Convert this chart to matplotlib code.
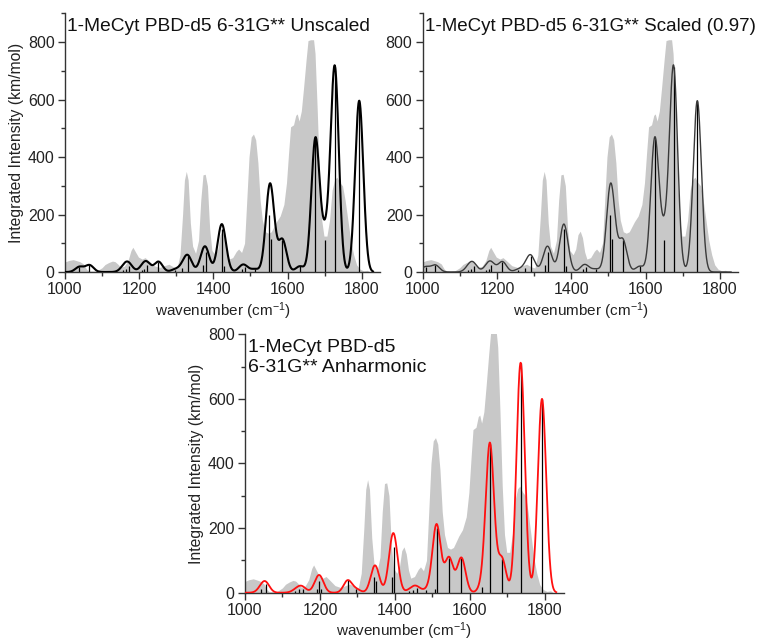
import numpy as np
import matplotlib
matplotlib.use("Agg")
import matplotlib.pyplot as plt
from matplotlib.ticker import MultipleLocator

plt.rcParams["font.family"] = ["Liberation Sans", "DejaVu Sans"]
plt.rcParams["mathtext.fontset"] = "custom"
plt.rcParams["mathtext.rm"] = "Liberation Sans"
plt.rcParams["mathtext.default"] = "regular"

# Experimental IR spectrum (grey envelope)
exp_wavenumber = [1000, 1010, 1022, 1030, 1040, 1050, 1058, 1065, 1085, 1100, 1108, 1118,
                  1128, 1135, 1142, 1150, 1160, 1170, 1178, 1183, 1190, 1198, 1208, 1216,
                  1225, 1240, 1255, 1268, 1280, 1292, 1302, 1310, 1317, 1322, 1327, 1332,
                  1338, 1344, 1352, 1360, 1366, 1372, 1378, 1384, 1390, 1396, 1405, 1412,
                  1418, 1424, 1430, 1436, 1442, 1452, 1462, 1468, 1476, 1484, 1490, 1496,
                  1502, 1508, 1514, 1520, 1526, 1532, 1540, 1548, 1556, 1562, 1570, 1580,
                  1590, 1597, 1603, 1608, 1616, 1622, 1626, 1631, 1637, 1643, 1650, 1655,
                  1662, 1670, 1674, 1680, 1686, 1692, 1698, 1706, 1713, 1720, 1727, 1733,
                  1740, 1748, 1755, 1762, 1770, 1778, 1786, 1795, 1805, 1815, 1822]
exp_intensity = [35, 40, 43, 40, 36, 28, 10, 3, 3, 15, 26, 33,
                 38, 36, 28, 17, 20, 40, 75, 86, 70, 52, 45, 50,
                 40, 22, 16, 22, 27, 18, 14, 60, 200, 320, 350, 320,
                 170, 90, 65, 110, 250, 338, 340, 300, 150, 75, 60, 80,
                 130, 142, 120, 70, 45, 50, 72, 80, 68, 100, 250, 400,
                 470, 480, 460, 380, 250, 180, 140, 135, 140, 155, 175, 195,
                 235, 310, 420, 505, 512, 545, 550, 525, 560, 640, 740, 805,
                 808, 808, 760, 560, 330, 180, 125, 125, 180, 285, 322, 330,
                 312, 300, 250, 185, 110, 60, 25, 10, 4, 6, 0]

# Calculated harmonic modes (unscaled)
unscaled_freq = [1039, 1066, 1157, 1164, 1172, 1207, 1214, 1221, 1252, 1296, 1316, 1331,
                 1371, 1379, 1422, 1429, 1476, 1484, 1512, 1551, 1556, 1586, 1633, 1675,
                 1701, 1727, 1793]
unscaled_int = [18, 24, 8, 12, 22, 6, 12, 24, 36, 8, 14, 54,
                24, 70, 150, 20, 12, 16, 10, 200, 115, 112, 20, 462,
                112, 712, 596]

# Same modes with frequencies scaled by 0.97
scaled_freq = [1007.8, 1034.0, 1122.3, 1129.1, 1136.8, 1170.8, 1177.6, 1184.4, 1214.4,
               1257.1, 1276.5, 1291.1, 1329.9, 1337.6, 1379.3, 1386.1, 1431.7, 1439.5,
               1466.6, 1504.5, 1509.3, 1538.4, 1584.0, 1624.8, 1650.0, 1675.2, 1739.2]
scaled_int = unscaled_int

# Anharmonic modes
anh_freq = [1044, 1055, 1133, 1145, 1154, 1191, 1198, 1203, 1274, 1297, 1345, 1349,
            1391, 1397, 1438, 1449, 1458, 1484, 1507, 1511, 1544, 1577, 1633, 1653,
            1685, 1735, 1792]
anh_int = [12, 28, 5, 10, 12, 12, 36, 10, 38, 10, 50, 36,
           50, 140, 5, 8, 14, 8, 12, 200, 108, 108, 18, 460,
           105, 712, 600]

FWHM = 26.0
GREY = "#c8c8c8"


def broaden(freqs, ints, x):
    sigma = FWHM / (2 * np.sqrt(2 * np.log(2)))
    y = np.zeros_like(x)
    for f, a in zip(freqs, ints):
        y += a * np.exp(-(x - f) ** 2 / (2 * sigma ** 2))
    return y


def style_axes(ax, ymax, ylabel):
    ax.set_xlim(1000, 1850)
    ax.set_ylim(0, ymax)
    for s in ("top", "right"):
        ax.spines[s].set_visible(False)
    for s in ("left", "bottom"):
        ax.spines[s].set_color("#333333")
        ax.spines[s].set_linewidth(1.0)
    ax.xaxis.set_major_locator(MultipleLocator(200))
    ax.xaxis.set_minor_locator(MultipleLocator(100))
    ax.yaxis.set_minor_locator(MultipleLocator(100))
    ax.set_yticks([0, 200, 400, 600, 800])
    ax.tick_params(which="major", direction="out", length=5, width=1, pad=2.5,
                   color="#333333", labelsize=11.5, labelcolor="#222222")
    ax.tick_params(which="minor", direction="out", length=3, width=1, color="#333333")
    ax.set_xlabel("wavenumber (cm$^{-1}$)", fontsize=11, color="#222222", labelpad=2)
    if ylabel:
        ax.set_ylabel("Integrated Intensity (km/mol)", fontsize=11.3, color="#222222",
                      labelpad=3)


fig = plt.figure(figsize=(7.67, 6.42), dpi=100)
ax1 = fig.add_axes([0.0847, 0.5763, 0.4112, 0.4030])
ax2 = fig.add_axes([0.5511, 0.5763, 0.4117, 0.4030])
ax3 = fig.add_axes([0.3194, 0.0768, 0.4156, 0.4025])

x = np.linspace(1000, 1830, 2000)

panels = [
    (ax1, unscaled_freq, unscaled_int, "black", 1.5, 900, True, 13.8,
     "1-MeCyt PBD-d5 6-31G** Unscaled"),
    (ax2, scaled_freq, scaled_int, "#3a3a3a", 1.0, 900, False, 13.5,
     "1-MeCyt PBD-d5 6-31G** Scaled (0.97)"),
    (ax3, anh_freq, anh_int, "#ff1010", 1.3, 800, True, 14,
     "1-MeCyt PBD-d5\n6-31G** Anharmonic"),
]

for ax, fr, it, col, lw, ymax, ylab, tsize, title in panels:
    ax.fill_between(exp_wavenumber, 0, exp_intensity, color=GREY, linewidth=0, zorder=1)
    ax.vlines(fr, 0, it, color="black", linewidth=0.9, zorder=2)
    ax.plot(x, broaden(fr, it, x), color=col, linewidth=lw, zorder=3)
    style_axes(ax, ymax, ylab)
    ax.text(0.008, 0.982, title, transform=ax.transAxes, ha="left", va="top",
            fontsize=tsize, color="#111111", linespacing=1.2, zorder=4)

fig.savefig("out.png", dpi=100)
